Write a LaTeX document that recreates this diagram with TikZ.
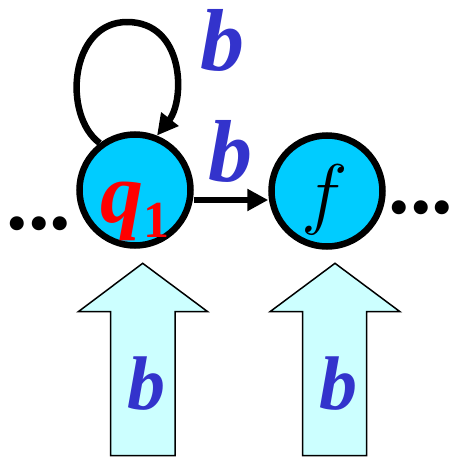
\documentclass[tikz,border=0pt]{standalone}
\usepackage{graphicx}
\usepackage{fontspec}
\setmainfont{Liberation Serif}
\usetikzlibrary{arrows.meta}
\definecolor{stcyan}{HTML}{00CCFF}
\definecolor{lblue}{HTML}{3333CC}
\definecolor{pale}{HTML}{CCFFFF}
\begin{document}
\begin{tikzpicture}[x=1pt,y=-1pt,
  state/.style={circle,draw=black,line width=6.5pt,fill=stcyan,minimum size=111pt,inner sep=0pt},
  edge/.style={line width=6.5pt,-{Triangle[length=21pt,width=21pt]}},
  lab/.style={text=lblue,inner sep=0pt,font=\fontsize{88}{88}\selectfont\bfseries\itshape},
  arrlab/.style={text=lblue,inner sep=0pt,font=\fontsize{76}{76}\selectfont\bfseries\itshape},
  bigarrow/.style={draw=black,line width=1.5pt,fill=pale,line join=miter},
  dots/.style={inner sep=0pt,font=\fontsize{86}{86}\selectfont\bfseries}]
\useasboundingbox (0,0) rectangle (452,458);
% bottom arrows
\draw[bigarrow] (142.7,263.3) -- (207.7,311.7) -- (175,311.7) -- (175,455.7) -- (110.7,455.7) -- (110.7,311.7) -- (78.3,311.7) -- cycle;
\draw[bigarrow] (335,263.3) -- (400,311.7) -- (366.7,311.7) -- (366.7,455.7) -- (302.7,455.7) -- (302.7,311.7) -- (270,311.7) -- cycle;
\node[arrlab] (ba1) at (146,384) {b};
\node[arrlab] (ba2) at (338,384) {b};
% states
\node[state] (q1) at (135,190) {};
\node[state] (f) at (327,191) {};
\node[inner sep=0pt,anchor=base west,text=red,font=\fontsize{86}{86}\selectfont\bfseries] (q1l) at (100,222) {\textit{q}\raisebox{-15pt}{\fontsize{52}{52}\selectfont 1}};
\node[inner sep=0pt,font=\fontsize{20}{20}\selectfont] (fl) at (325,200) {\scalebox{3.8}{$f$}};
% edges
\coordinate (looptop) at (127,22);
\draw[line width=6.5pt] (q1.127) .. controls (62,115) and (70,22) .. (looptop);
\draw[edge] (looptop) .. controls (185,22) and (185,100) .. (q1.68);
\draw[edge] (q1.east |- 0,200) -- (f.west |- 0,200);
% labels
\node[lab] (b1) at (222,40) {b};
\node[lab] (b2) at (230,151) {b};
% dots
\node[dots,anchor=center] (dl) at (39,224) {...};
\node[dots,anchor=center] (dr) at (421,208) {...};
\end{tikzpicture}
\end{document}
